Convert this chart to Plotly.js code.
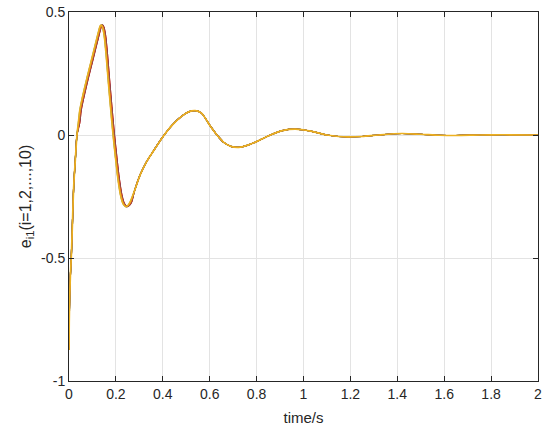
<!DOCTYPE html>
<html>
<head>
<meta charset="utf-8">
<script src="https://cdn.plot.ly/plotly-3.0.1.min.js"></script>
<style>
  html, body { margin: 0; padding: 0; background: #fff; }
  #myDiv { width: 550px; height: 434px; }
</style>
</head>
<body>
<div id="myDiv"></div>
<script>
// Tramo inicial (igual para todas las series)
const tStart = [0, 0.001, 0.003, 0.006, 0.010, 0.014, 0.020, 0.027, 0.034];
const eStart = [-0.874, -0.76, -0.66, -0.57, -0.49, -0.38, -0.21, -0.10, 0.0];

// Pico y caida: mismos valores, tiempos algo distintos segun el agente
const ePeak = [0.05, 0.10, 0.143, 0.185, 0.237, 0.29, 0.34, 0.39, 0.424, 0.443, 0.447, 0.438,
  0.405, 0.33, 0.225, 0.115, 0.01, -0.09, -0.18, -0.245, -0.280, -0.291, -0.286, -0.27];
const tPeakA = [0.040, 0.046, 0.055, 0.065, 0.078, 0.092, 0.105, 0.118, 0.127, 0.133, 0.138, 0.143,
  0.150, 0.158, 0.167, 0.177, 0.187, 0.198, 0.209, 0.220, 0.231, 0.242, 0.252, 0.262];
const tPeakB = [0.042, 0.048, 0.057, 0.067, 0.080, 0.094, 0.107, 0.120, 0.129, 0.135, 0.140, 0.145,
  0.152, 0.160, 0.169, 0.179, 0.189, 0.200, 0.211, 0.222, 0.233, 0.244, 0.254, 0.264];
const tPeakC = [0.044, 0.050, 0.059, 0.069, 0.082, 0.096, 0.109, 0.122, 0.131, 0.137, 0.142, 0.147,
  0.154, 0.162, 0.171, 0.181, 0.191, 0.202, 0.213, 0.224, 0.235, 0.246, 0.256, 0.266];
const tPeakD = [0.046, 0.052, 0.061, 0.071, 0.084, 0.098, 0.111, 0.124, 0.133, 0.139, 0.144, 0.149,
  0.156, 0.164, 0.173, 0.183, 0.193, 0.204, 0.215, 0.226, 0.237, 0.248, 0.258, 0.268];

// Cola amortiguada (todas las series coinciden)
const tTail = [0.28, 0.303, 0.33, 0.36, 0.40, 0.44, 0.48, 0.51, 0.538, 0.565, 0.60, 0.631,
  0.66, 0.69, 0.724, 0.76, 0.80, 0.859, 0.91, 0.966, 1.03, 1.10, 1.15, 1.19, 1.25, 1.32, 1.42,
  1.50, 1.58, 1.65, 1.75, 1.85, 2.0];
const eTail = [-0.225, -0.163, -0.11, -0.065, -0.008, 0.04, 0.076, 0.094, 0.099, 0.089, 0.04, 0.0,
  -0.03, -0.046, -0.05, -0.042, -0.027, 0.0, 0.018, 0.024, 0.016, 0.0, -0.006, -0.008, -0.006, 0.0, 0.006,
  0.003, -0.001, -0.002, 0.0, 0.001, 0.0];

// Grupo de tiempos de pico de cada agente i = 1..10
const agentPeakTimes = [tPeakC, tPeakD, tPeakA, tPeakB, tPeakB, tPeakA, tPeakD, tPeakC, tPeakC, tPeakA];
const agentColors = ["#0072BD", "#D95319", "#EDB120", "#7E2F8E", "#77AC30",
  "#4DBEEE", "#A2142F", "#0072BD", "#D95319", "#EDB120"];

const xTickVals = [0, 0.2, 0.4, 0.6, 0.8, 1, 1.2, 1.4, 1.6, 1.8, 2];
const xTickText = ["0", "0.2", "0.4", "0.6", "0.8", "1", "1.2", "1.4", "1.6", "1.8", "2"];
const yTickVals = [-1, -0.5, 0, 0.5];
const yTickText = ["-1", "-0.5", "0", "0.5"];

// La ultima serie (amarilla) queda encima y algo mas gruesa, como en la figura
const data = agentPeakTimes.map((tp, i) => ({
  type: "scatter",
  mode: "lines",
  name: "e" + (i + 1) + "1",
  x: tStart.concat(tp, tTail),
  y: eStart.concat(ePeak, eTail),
  line: {
    color: agentColors[i],
    width: i === agentPeakTimes.length - 1 ? 1.7 : 1.2,
    shape: "spline",
    smoothing: 0.8,
  },
}));

const axisBase = {
  showline: true,
  linecolor: "#262626",
  linewidth: 1,
  mirror: "ticks",
  ticks: "inside",
  ticklen: 5,
  tickcolor: "#262626",
  showgrid: true,
  gridcolor: "#e3e3e3",
  zeroline: false,
  tickfont: { size: 14, color: "#262626" },
};

const layout = {
  width: 550,
  height: 434,
  margin: { l: 69, r: 12, t: 12, b: 53 },
  paper_bgcolor: "#fff",
  plot_bgcolor: "#fff",
  showlegend: false,
  font: { family: "Liberation Sans", size: 14, color: "#262626" },
  xaxis: Object.assign({}, axisBase, {
    range: [0, 2],
    tickmode: "array",
    tickvals: xTickVals,
    ticktext: xTickText,
    title: { text: "time/s", font: { size: 15 }, standoff: 11 },
  }),
  yaxis: Object.assign({}, axisBase, {
    range: [-1, 0.5],
    tickmode: "array",
    tickvals: yTickVals,
    ticktext: yTickText,
    title: { text: "e<sub>i1</sub>(i=1,2,...,10)", font: { size: 16 }, standoff: 5 },
  }),
};

Plotly.newPlot("myDiv", data, layout, { displayModeBar: false, staticPlot: true });
</script>
</body>
</html>
